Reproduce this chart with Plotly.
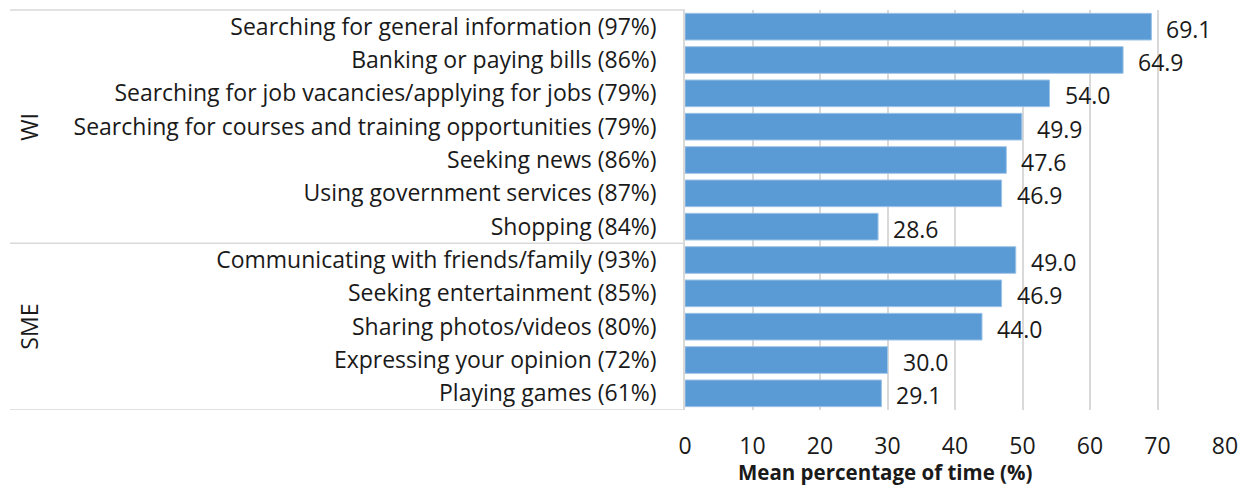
import plotly.graph_objects as go

# Activities (top to bottom) with share of respondents, grouped into WI and SME
activities = [
    "Searching for general information (97%)",
    "Banking or paying bills (86%)",
    "Searching for job vacancies/applying for jobs (79%)",
    "Searching for courses and training opportunities (79%)",
    "Seeking news (86%)",
    "Using government services (87%)",
    "Shopping (84%)",
    "Communicating with friends/family (93%)",
    "Seeking entertainment (85%)",
    "Sharing photos/videos (80%)",
    "Expressing your opinion (72%)",
    "Playing games (61%)",
]
mean_time = [69.1, 64.9, 54.0, 49.9, 47.6, 46.9, 28.6, 49.0, 46.9, 44.0, 30.0, 29.1]
groups = ["WI", "SME"]
group_sizes = [7, 5]
x_ticks = [0, 10, 20, 30, 40, 50, 60, 70, 80]
x_title = "Mean percentage of time (%)"

FONT = "Open Sans"
TXT = "#1a1a1a"
GRID = "#d9d9d9"
FS = 23

W, H = 1247, 486
ML, MR, MT, MB = 685, 22, 10, 76
plot_w = W - ML - MR
plot_h = H - MT - MB

pos = list(range(len(activities)))

fig = go.Figure()
fig.add_trace(go.Bar(
    x=mean_time,
    y=pos,
    orientation="h",
    marker=dict(color="#5b9bd5", line=dict(color="#9dc3e6", width=1)),
    width=0.8,
    hoverinfo="x+y",
))

# value labels to the right of each bar
for p, v in zip(pos, mean_time):
    fig.add_annotation(
        x=v, y=p, xref="x", yref="y",
        text=f"{v:.1f}", showarrow=False,
        xanchor="left", yanchor="middle", xshift=13, yshift=-2,
        font=dict(family=FONT, size=FS, color=TXT),
    )

# group labels and separators on the category axis
left_px = 10
x_left = (left_px - ML) / plot_w
start = 0
shapes = [
    dict(type="line", xref="paper", yref="paper", x0=x_left, x1=0, y0=1, y1=1,
         line=dict(color=GRID, width=1.5)),
]
for g, n in zip(groups, group_sizes):
    end = start + n
    mid = (start + end - 1) / 2
    fig.add_annotation(
        x=(29 - ML) / plot_w, y=mid, xref="paper", yref="y",
        text=g, textangle=-90, showarrow=False,
        xanchor="center", yanchor="middle",
        font=dict(family=FONT, size=FS, color=TXT),
    )
    shapes.append(dict(type="line", xref="paper", yref="y", x0=x_left, x1=0,
                       y0=end - 0.5, y1=end - 0.5,
                       line=dict(color=GRID, width=1.5)))
    start = end
fig.update_layout(shapes=shapes)

# x-axis title, set a little left of the axis centre
fig.add_annotation(
    x=(885 - ML) / plot_w, y=-(472 - (MT + plot_h)) / plot_h,
    xref="paper", yref="paper",
    text=f"<b>{x_title}</b>", showarrow=False,
    xanchor="center", yanchor="middle",
    font=dict(family=FONT, size=20.5, color=TXT),
)

fig.update_xaxes(
    range=[0, 80],
    tickvals=x_ticks,
    showgrid=True, gridcolor=GRID, gridwidth=1.5,
    zeroline=False, showline=False,
    tickfont=dict(family=FONT, size=FS, color=TXT),
    ticklabelstandoff=20,
)
fig.update_yaxes(
    tickvals=pos,
    ticktext=activities,
    range=[len(activities) - 0.5, -0.5],
    showgrid=False, zeroline=False,
    showline=True, linecolor=GRID, linewidth=1.5,
    tickfont=dict(family=FONT, size=FS, color=TXT),
    ticklabelstandoff=22,
)

fig.update_layout(
    width=W, height=H,
    margin=dict(l=ML, r=MR, t=MT, b=MB),
    paper_bgcolor="white", plot_bgcolor="white",
    showlegend=False,
    bargap=0.2,
)

fig.write_html("out.html")
